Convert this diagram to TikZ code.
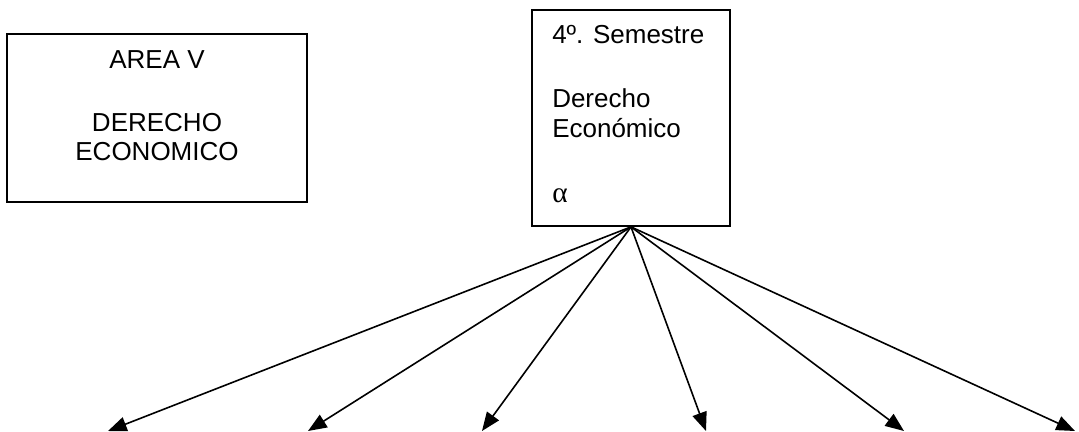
\documentclass[tikz,border=0pt]{standalone}
\usepackage{fontspec}
\setmainfont{Liberation Sans}
\newfontfamily\greekfont{Liberation Serif}
\usetikzlibrary{arrows.meta}
\begin{document}
\begin{tikzpicture}[x=0.75pt,y=-0.75pt,
  box/.style={draw,line width=1.3pt,inner sep=0pt},
  txt/.style={inner sep=0pt,font=\fontsize{19.5}{23}\selectfont},
  conn/.style={line width=1.2pt,-{Triangle[length=14pt,width=11pt]}}]
\useasboundingbox (0,0) rectangle (1079,432);
\node[box,minimum width=225pt,minimum height=126pt] (b1) at (157,118) {};
\node[box,minimum width=148.5pt,minimum height=162pt] (b2) at (631,118) {};
\node[txt,anchor=base] (t1) at (157,68) {AREA V};
\node[txt,anchor=base] (t2) at (157,131) {DERECHO};
\node[txt,anchor=base] (t3) at (157,160) {ECONOMICO};
\node[txt,anchor=base west] (s1) at (552,43) {4º. Semestre};
\node[txt,anchor=base west] (s2) at (552,107) {Derecho};
\node[txt,anchor=base west] (s3) at (552,137) {Económico};
\node[txt,anchor=base west] (s4) at (552,202) {\greekfont\fontsize{22}{24}\selectfont α};
\coordinate (e1) at (108,431);
\coordinate (e2) at (308,431);
\coordinate (e3) at (482,431);
\coordinate (e4) at (706,431);
\coordinate (e5) at (904,431);
\coordinate (e6) at (1075,431);
\foreach \e in {e1,e2,e3,e4,e5,e6} \draw[conn] (b2.south) -- (\e);
\end{tikzpicture}
\end{document}
